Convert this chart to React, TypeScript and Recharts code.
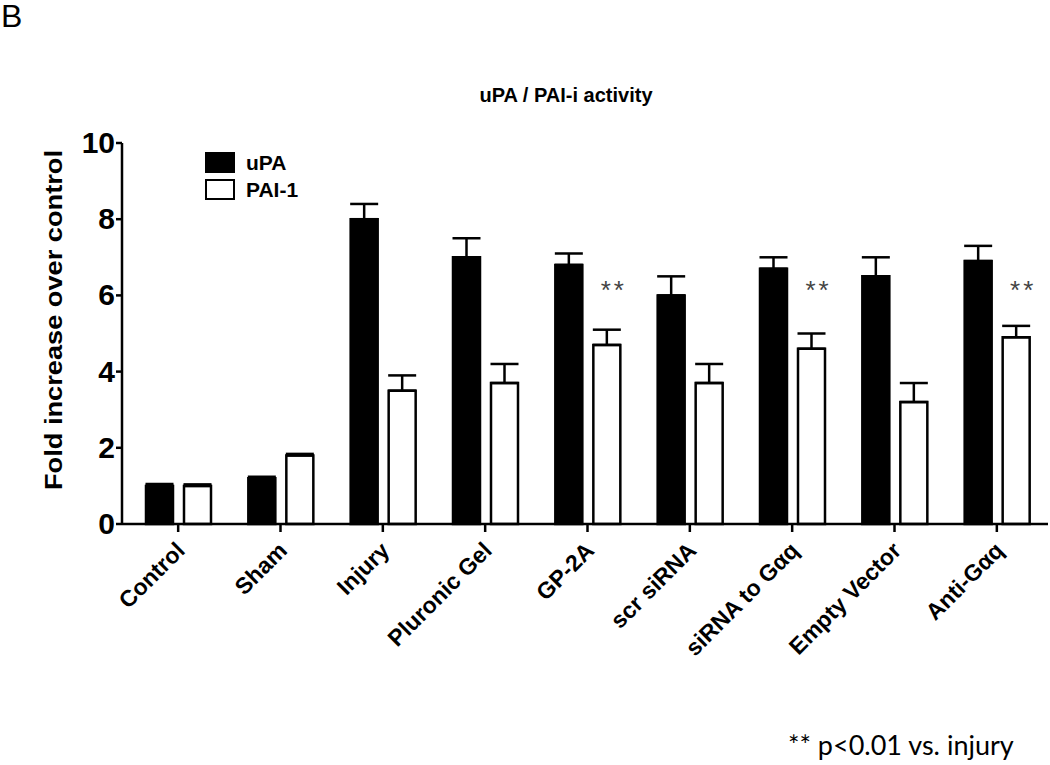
import React from "react"
import {
  BarChart,
  Bar,
  XAxis,
  YAxis,
  ErrorBar,
  LabelList,
} from "recharts"

const categories = [
  "Control",
  "Sham",
  "Injury",
  "Pluronic Gel",
  "GP-2A",
  "scr siRNA",
  "siRNA to Gαq",
  "Empty Vector",
  "Anti-Gαq",
]
const upa = [1.0, 1.2, 8.0, 7.0, 6.8, 6.0, 6.7, 6.5, 6.9]
const upaErr = [0.05, 0.04, 0.4, 0.5, 0.3, 0.5, 0.3, 0.5, 0.4]
const pai = [1.0, 1.8, 3.5, 3.7, 4.7, 3.7, 4.6, 3.2, 4.9]
const paiErr = [0.04, 0.04, 0.4, 0.5, 0.4, 0.5, 0.4, 0.5, 0.3]
const significant = [false, false, false, false, true, false, true, false, true]
const yTicks = [0, 2, 4, 6, 8, 10]
const starLevel = 6.27

const font = "'Liberation Sans', Arial, sans-serif"

const data = categories.map((name, i) => ({
  name,
  upa: upa[i],
  upaErr: [0, upaErr[i]],
  pai: pai[i],
  paiErr: [0, paiErr[i]],
  sig: significant[i],
}))

const legendItems = [
  { label: "uPA", fill: "#000" },
  { label: "PAI-1", fill: "#fff" },
]

function YTick({ x, y, payload }: any) {
  return (
    <text
      x={x - 1}
      y={y}
      dy={10}
      textAnchor="end"
      fontFamily={font}
      fontWeight="bold"
      fontSize={30}
      fill="#000"
    >
      {payload.value}
    </text>
  )
}

function XTick({ x, y, payload }: any) {
  const tx = x + 8
  const ty = y + 20
  return (
    <text
      x={tx}
      y={ty}
      textAnchor="end"
      transform={`rotate(-45, ${tx}, ${ty})`}
      fontFamily={font}
      fontWeight="bold"
      fontSize={23}
      fill="#000"
    >
      {payload.value}
    </text>
  )
}

function Stars(props: any) {
  const { x, y, width, height, value, index } = props
  if (!data[index] || !data[index].sig || !value) return null
  const perUnit = height / value
  const sy = y + height - starLevel * perUnit
  return (
    <text
      x={x + width / 2 + 7}
      y={sy + 14}
      textAnchor="middle"
      fontFamily={font}
      fontSize={26}
      letterSpacing={3}
      fill="#444"
    >
      **
    </text>
  )
}

export default function App() {
  return (
    <div
      style={{
        position: "absolute",
        left: 0,
        top: 0,
        width: 1050,
        height: 765,
        background: "#fff",
        fontFamily: font,
      }}
    >
      <div style={{ position: "absolute", left: 1, top: -2, fontSize: 32 }}>
        B
      </div>
      <div
        style={{
          position: "absolute",
          left: 0,
          width: 1132,
          top: 84,
          textAlign: "center",
          fontWeight: "bold",
          fontSize: 20,
        }}
      >
        uPA / PAI-i activity
      </div>
      <BarChart
        width={1050}
        height={765}
        data={data}
        margin={{ top: 143, right: 2, bottom: 91, left: 52 }}
        barSize={27}
        barGap={11}
      >
        <XAxis
          dataKey="name"
          height={150}
          interval={0}
          padding={{ left: 5, right: 0 }}
          axisLine={{ stroke: "#000", strokeWidth: 2.5 }}
          tickLine={{ stroke: "#000", strokeWidth: 2.5 }}
          tickSize={8}
          tickMargin={0}
          tick={<XTick />}
        />
        <YAxis
          width={70}
          domain={[0, 10]}
          ticks={yTicks}
          axisLine={{ stroke: "#000", strokeWidth: 2.5 }}
          tickLine={{ stroke: "#000", strokeWidth: 2.5 }}
          tickSize={6}
          tickMargin={0}
          tick={<YTick />}
          label={{
            content: () => (
              <text
                x={62}
                y={320}
                textAnchor="middle"
                transform="rotate(-90, 62, 320)"
                fontFamily={font}
                fontWeight="bold"
                fontSize={24}
                textLength={340}
                lengthAdjust="spacingAndGlyphs"
                fill="#000"
              >
                Fold increase over control
              </text>
            ),
          }}
        />
        <Bar
          dataKey="upa"
          name="uPA"
          fill="#000"
          stroke="#000"
          strokeWidth={2.5}
          isAnimationActive={false}
        >
          <ErrorBar
            dataKey="upaErr"
            direction="y"
            width={14}
            stroke="#000"
            strokeWidth={2.5}
          />
        </Bar>
        <Bar
          dataKey="pai"
          name="PAI-1"
          fill="#fff"
          stroke="#000"
          strokeWidth={2.5}
          isAnimationActive={false}
        >
          <ErrorBar
            dataKey="paiErr"
            direction="y"
            width={14}
            stroke="#000"
            strokeWidth={2.5}
          />
          <LabelList dataKey="pai" content={<Stars />} />
        </Bar>
      </BarChart>
      <div style={{ position: "absolute", left: 205, top: 149 }}>
        {legendItems.map((it) => (
          <div
            key={it.label}
            style={{ display: "flex", alignItems: "center", height: 27 }}
          >
            <div
              style={{
                width: 26,
                height: 17,
                background: it.fill,
                border: "2.5px solid #000",
                marginRight: 11,
              }}
            />
            <span style={{ fontWeight: "bold", fontSize: 21, color: "#000" }}>
              {it.label}
            </span>
          </div>
        ))}
      </div>
      <div
        style={{
          position: "absolute",
          left: 788,
          top: 728,
          fontFamily: "Lato, 'Open Sans', sans-serif",
          fontSize: 27,
          whiteSpace: "nowrap",
        }}
      >
        ** p&lt;0.01 vs. injury
      </div>
    </div>
  )
}
